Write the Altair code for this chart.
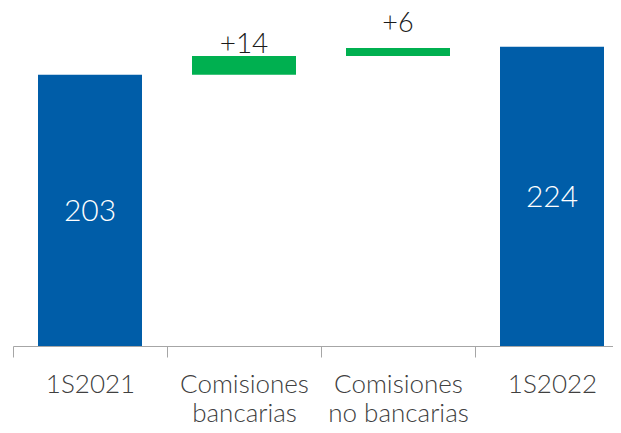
import altair as alt
import pandas as pd

categories = ["1S2021", "Comisiones\nbancarias", "Comisiones\nno bancarias", "1S2022"]
values = [203, 14, 6, 224]
kinds = ["total", "delta", "delta", "total"]
labels = ["203", "+14", "+6", "224"]

rows = []
running = 0
for c, v, k, l in zip(categories, values, kinds, labels):
    if k == "total":
        start, end = 0, v
        running = v
    else:
        start, end = running, running + v
        running = end
    rows.append({"cat": c, "start": start, "end": end, "mid": (start + end) / 2,
                 "kind": k, "label": l})
df = pd.DataFrame(rows)

FONT = "Lato"
BLUE = "#005DA8"
GREEN = "#00B050"

x = alt.X("cat:N", sort=categories, title=None,
          scale=alt.Scale(range=[0, 616], paddingInner=0, paddingOuter=0),
          axis=alt.Axis(labelExpr="split(datum.label, '\\n')", labelAngle=0,
                        labelFont=FONT, labelFontWeight=300, labelFontSize=26,
                        labelColor="#404040", labelBaseline="alphabetic",
                        labelLineHeight=29, labelPadding=35,
                        tickBand="extent", tickSize=11, tickColor="#A6A6A6",
                        domainColor="#A6A6A6", domainWidth=1, tickWidth=1,
                        labelLimit=0))
yscale = alt.Scale(domain=[0, 253], nice=False, zero=True)

base = alt.Chart(df)

bars = base.mark_bar(width=104).encode(
    x=x,
    y=alt.Y("start:Q", scale=yscale, axis=None),
    y2="end:Q",
    color=alt.Color("kind:N", scale=alt.Scale(domain=["total", "delta"], range=[BLUE, GREEN]),
                    legend=None),
)

total_text = base.transform_filter("datum.kind == 'total'").mark_text(
    font=FONT, fontWeight=300, fontSize=30, color="white", baseline="middle", dy=2
).encode(x=alt.X("cat:N", sort=categories), y=alt.Y("mid:Q", scale=yscale), text="label:N")

d1_text = base.transform_filter("datum.cat == 'Comisiones\\nbancarias'").mark_text(
    font=FONT, fontWeight=300, fontSize=28, color="#1a1a1a", baseline="alphabetic", dy=-3
).encode(x=alt.X("cat:N", sort=categories), y=alt.Y("end:Q", scale=yscale), text="label:N")

d2_text = base.transform_filter("datum.cat == 'Comisiones\\nno bancarias'").mark_text(
    font=FONT, fontWeight=300, fontSize=27, color="#1a1a1a", baseline="alphabetic", dy=-16
).encode(x=alt.X("cat:N", sort=categories), y=alt.Y("end:Q", scale=yscale), text="label:N")

chart = alt.layer(bars, total_text, d1_text, d2_text).properties(
    width=600, height=338,
    autosize=alt.AutoSizeParams(type="none"),
    padding={"left": 5, "top": 0, "right": 0, "bottom": 79},
    background="white",
).configure_view(stroke=None)

chart.save("out.html", embed_options={"renderer": "svg", "actions": False})
